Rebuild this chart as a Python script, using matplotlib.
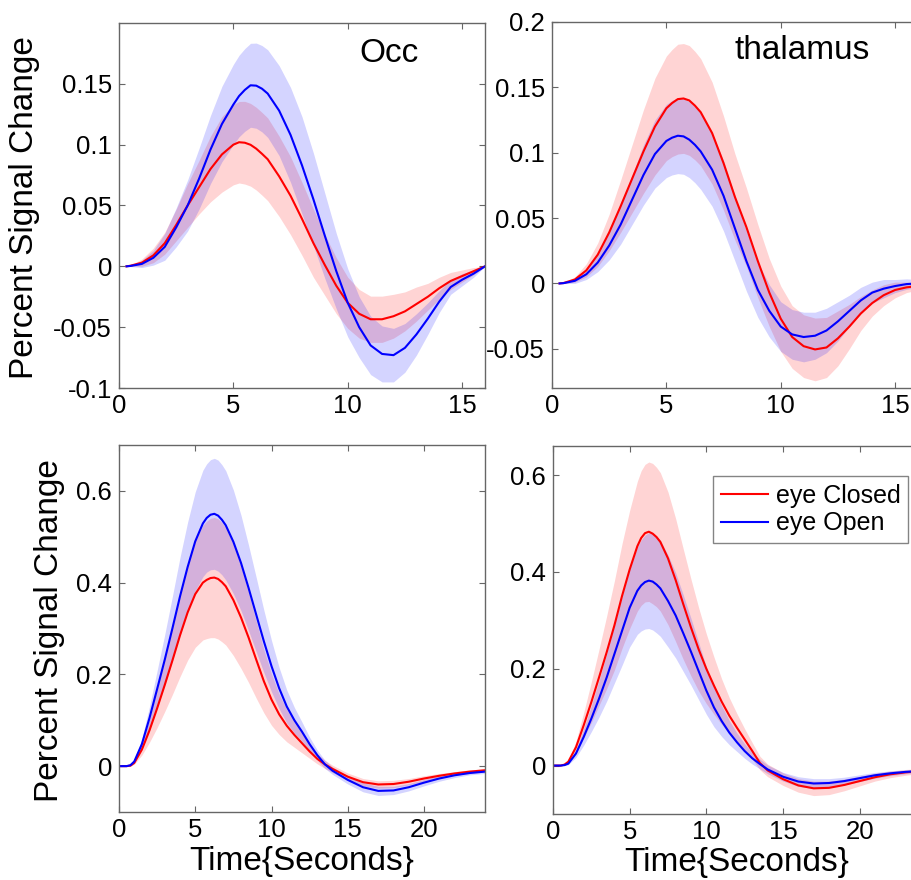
import matplotlib
matplotlib.use('Agg')
import matplotlib.pyplot as plt
import numpy as np

plt.rcParams['font.family'] = ['Liberation Sans', 'DejaVu Sans']
plt.rcParams['axes.unicode_minus'] = False

# ---------------- data ----------------
t_top = [0.33, 0.5, 1.0, 1.5, 2.0, 2.5, 3.0, 3.5, 4.0, 4.5,
         5.0, 5.25, 5.5, 5.75, 6.0, 6.25, 6.5, 7.0, 7.5,
         8.0, 8.5, 9.0, 9.5, 10.0, 10.5, 11.0, 11.5, 12.0, 12.5, 13.0, 13.5, 14.0, 14.5,
         15.0, 15.5, 16.0]

occ_open = [0, 0.0003, 0.002, 0.007, 0.016, 0.032, 0.050, 0.072, 0.096, 0.117,
            0.133, 0.140, 0.145, 0.1488, 0.1485, 0.146, 0.142, 0.128, 0.108,
            0.083, 0.055, 0.025, -0.004, -0.030, -0.050, -0.065, -0.072, -0.073, -0.067,
            -0.056, -0.043, -0.029, -0.017, -0.011, -0.006, 0.0]
occ_open_err = [0, 0.0005, 0.003, 0.006, 0.011, 0.016, 0.021, 0.025, 0.028, 0.031,
                0.033, 0.0335, 0.034, 0.0345, 0.035, 0.0355, 0.036, 0.037, 0.039,
                0.040, 0.038, 0.035, 0.031, 0.028, 0.025, 0.024, 0.023, 0.022, 0.020,
                0.017, 0.013, 0.009, 0.006, 0.005, 0.003, 0.0]
occ_closed = [0, 0.0005, 0.003, 0.009, 0.019, 0.034, 0.050, 0.065, 0.080, 0.092,
              0.100, 0.102, 0.1016, 0.0999, 0.0967, 0.0925, 0.088, 0.074, 0.058,
              0.039, 0.019, 0.001, -0.016, -0.030, -0.039, -0.0435, -0.0435, -0.041, -0.037,
              -0.031, -0.025, -0.018, -0.012, -0.008, -0.004, 0.0]
occ_closed_err = [0, 0.0005, 0.003, 0.006, 0.009, 0.013, 0.018, 0.022, 0.027, 0.031,
                  0.033, 0.0335, 0.034, 0.034, 0.034, 0.034, 0.034, 0.033, 0.032,
                  0.030, 0.028, 0.025, 0.023, 0.021, 0.020, 0.019, 0.019, 0.018, 0.016,
                  0.014, 0.011, 0.009, 0.007, 0.005, 0.003, 0.0]

thal_closed = [0, 0.0003, 0.003, 0.010, 0.022, 0.039, 0.059, 0.080, 0.101, 0.120,
               0.134, 0.138, 0.141, 0.1415, 0.140, 0.136, 0.131, 0.115, 0.092,
               0.066, 0.043, 0.017, -0.007, -0.027, -0.041, -0.048, -0.0505, -0.049, -0.042,
               -0.033, -0.023, -0.015, -0.009, -0.005, -0.003, -0.002]
thal_closed_err = [0, 0.0003, 0.002, 0.005, 0.009, 0.014, 0.020, 0.026, 0.032, 0.037,
                   0.040, 0.041, 0.042, 0.042, 0.042, 0.0415, 0.041, 0.039, 0.036,
                   0.033, 0.030, 0.028, 0.026, 0.025, 0.024, 0.024, 0.024, 0.023, 0.021,
                   0.017, 0.013, 0.010, 0.008, 0.006, 0.004, 0.003]
thal_open = [0, 0.0002, 0.002, 0.007, 0.016, 0.029, 0.045, 0.064, 0.083, 0.099,
             0.109, 0.1115, 0.113, 0.1125, 0.110, 0.106, 0.101, 0.087, 0.067,
             0.042, 0.017, -0.005, -0.021, -0.033, -0.039, -0.041, -0.040, -0.036, -0.029,
             -0.021, -0.013, -0.007, -0.004, -0.002, -0.0005, 0.0]
thal_open_err = [0, 0.0003, 0.002, 0.004, 0.007, 0.011, 0.015, 0.019, 0.023, 0.026,
                 0.028, 0.0285, 0.029, 0.029, 0.029, 0.029, 0.029, 0.028, 0.027,
                 0.025, 0.023, 0.021, 0.020, 0.019, 0.019, 0.019, 0.018, 0.017, 0.015,
                 0.012, 0.010, 0.008, 0.007, 0.005, 0.004, 0.003]

t_bot = [0, 0.5, 0.75, 1.0, 1.5, 2.0, 2.5, 3.0, 3.5, 4.0, 4.5, 5.0, 5.5, 5.75, 6.0, 6.25,
         6.5, 6.75, 7.0, 7.5, 8.0, 8.5, 9.0, 9.5, 10.0, 10.5, 11.0, 11.5, 12.0, 12.5, 13.0,
         13.5, 14.0, 15, 16, 17, 18, 19, 20, 21, 22, 23, 24]

occ_open_b = [0, 0.0, 0.002, 0.010, 0.048, 0.105, 0.168, 0.232, 0.300, 0.370, 0.434,
              0.490, 0.529, 0.541, 0.548, 0.550, 0.546, 0.537, 0.525, 0.489, 0.443, 0.388,
              0.330, 0.272, 0.218, 0.170, 0.130, 0.100, 0.075, 0.048, 0.024, 0.004, -0.010,
              -0.030, -0.046, -0.054, -0.053, -0.046, -0.036, -0.027, -0.020, -0.015, -0.012]
occ_open_b_err = [0, 0, 0.001, 0.003, 0.012, 0.025, 0.040, 0.055, 0.070, 0.085, 0.098,
                  0.108, 0.116, 0.118, 0.120, 0.121, 0.121, 0.120, 0.119, 0.113, 0.104, 0.093,
                  0.081, 0.068, 0.056, 0.045, 0.036, 0.028, 0.021, 0.015, 0.011, 0.009, 0.008,
                  0.009, 0.010, 0.010, 0.009, 0.008, 0.007, 0.006, 0.005, 0.004, 0.004]
occ_closed_b = [0, 0.0, 0.001, 0.007, 0.036, 0.078, 0.126, 0.177, 0.230, 0.285, 0.335,
                0.375, 0.400, 0.406, 0.410, 0.411, 0.408, 0.401, 0.392, 0.362, 0.324, 0.280,
                0.232, 0.185, 0.145, 0.113, 0.088, 0.068, 0.050, 0.032, 0.016, 0.004, -0.006,
                -0.023, -0.035, -0.040, -0.039, -0.034, -0.027, -0.021, -0.016, -0.012, -0.009]
occ_closed_b_err = [0, 0, 0.001, 0.003, 0.012, 0.026, 0.042, 0.058, 0.074, 0.090, 0.104,
                    0.116, 0.125, 0.128, 0.130, 0.131, 0.131, 0.130, 0.128, 0.121, 0.111, 0.098,
                    0.084, 0.069, 0.056, 0.044, 0.035, 0.027, 0.021, 0.015, 0.011, 0.009, 0.008,
                    0.008, 0.008, 0.008, 0.008, 0.007, 0.006, 0.005, 0.004, 0.004, 0.003]

thal_closed_b = [0, 0.0, 0.002, 0.008, 0.038, 0.083, 0.131, 0.182, 0.234, 0.289, 0.350,
                 0.405, 0.453, 0.470, 0.480, 0.483, 0.479, 0.472, 0.462, 0.428, 0.383, 0.333,
                 0.285, 0.240, 0.200, 0.165, 0.132, 0.103, 0.078, 0.054, 0.030, 0.005, -0.010,
                 -0.028, -0.041, -0.047, -0.046, -0.040, -0.032, -0.024, -0.018, -0.014, -0.011]
thal_closed_b_err = [0, 0, 0.001, 0.003, 0.012, 0.026, 0.042, 0.058, 0.075, 0.092, 0.108,
                     0.122, 0.134, 0.139, 0.142, 0.144, 0.145, 0.144, 0.143, 0.137, 0.127, 0.114,
                     0.100, 0.086, 0.072, 0.059, 0.047, 0.037, 0.029, 0.022, 0.017, 0.014, 0.013,
                     0.013, 0.014, 0.015, 0.014, 0.012, 0.010, 0.008, 0.007, 0.006, 0.005]
thal_open_b = [0, 0.0, 0.001, 0.004, 0.025, 0.059, 0.097, 0.138, 0.182, 0.230, 0.278,
               0.326, 0.361, 0.372, 0.379, 0.382, 0.380, 0.374, 0.366, 0.340, 0.310, 0.273,
               0.235, 0.195, 0.155, 0.120, 0.092, 0.068, 0.048, 0.030, 0.015, 0.003, -0.008,
               -0.023, -0.033, -0.037, -0.036, -0.032, -0.026, -0.020, -0.016, -0.013, -0.011]
thal_open_b_err = [0, 0, 0.001, 0.002, 0.008, 0.017, 0.027, 0.038, 0.049, 0.060, 0.071,
                   0.081, 0.090, 0.094, 0.097, 0.099, 0.100, 0.100, 0.099, 0.095, 0.088, 0.079,
                   0.069, 0.059, 0.049, 0.040, 0.032, 0.025, 0.019, 0.015, 0.012, 0.010, 0.009,
                   0.009, 0.010, 0.010, 0.009, 0.008, 0.007, 0.006, 0.005, 0.004, 0.004]

series_labels = ['eye Closed', 'eye Open']
titles = ['Occ', 'thalamus']
xticks_top = [0, 5, 10, 15]
xticks_bot = [0, 5, 10, 15, 20]
yticks_occ = [-0.1, -0.05, 0, 0.05, 0.1, 0.15]
yticks_thal = [-0.05, 0, 0.05, 0.1, 0.15, 0.2]
yticks_bot = [0, 0.2, 0.4, 0.6]

# ---------------- figure ----------------
W, H = 912, 880
fig = plt.figure(figsize=(W / 100, H / 100), dpi=100)

GRAY = '#666666'


def px_rect(x0, y0, x1, y1):
    return [x0 / W, 1 - y1 / H, (x1 - x0) / W, (y1 - y0) / H]


def panel(rect, t, closed, closed_err, opn, opn_err, xlim, ylim, xticks, yticks):
    ax = fig.add_axes(rect)
    t = np.asarray(t)
    c, ce = np.asarray(closed), np.asarray(closed_err)
    o, oe = np.asarray(opn), np.asarray(opn_err)
    ax.fill_between(t, c - ce, c + ce, color='red', alpha=0.17, lw=0)
    ax.fill_between(t, o - oe, o + oe, color='blue', alpha=0.17, lw=0)
    ax.plot(t, c, color='red', lw=1.5, label=series_labels[0])
    ax.plot(t, o, color='blue', lw=1.5, label=series_labels[1])
    ax.set_xlim(*xlim)
    ax.set_ylim(*ylim)
    ax.set_xticks(xticks)
    ax.set_xticklabels(['%g' % v for v in xticks])
    ax.set_yticks(yticks)
    ax.set_yticklabels(['%g' % v for v in yticks])
    for sp in ax.spines.values():
        sp.set_color(GRAY)
        sp.set_linewidth(1.0)
    ax.tick_params(direction='in', top=True, right=True, length=4, width=0.8,
                   color=GRAY, labelsize=18.5, labelcolor='black')
    ax.tick_params(axis='x', pad=4)
    ax.tick_params(axis='y', pad=5)
    return ax


ax_tl = panel(px_rect(119, 23, 485, 388), t_top, occ_closed, occ_closed_err,
              occ_open, occ_open_err, (0, 16), (-0.1, 0.2), xticks_top, yticks_occ)
ax_tr = panel(px_rect(552, 22, 918, 388), t_top, thal_closed, thal_closed_err,
              thal_open, thal_open_err, (0, 16), (-0.08, 0.2), xticks_top, yticks_thal)
ax_bl = panel(px_rect(119, 445, 485, 812), t_bot, occ_closed_b, occ_closed_b_err,
              occ_open_b, occ_open_b_err, (0, 24), (-0.1, 0.7), xticks_bot, yticks_bot)
ax_br = panel(px_rect(553, 446, 921, 814), t_bot, thal_closed_b, thal_closed_b_err,
              thal_open_b, thal_open_b_err, (0, 24), (-0.1, 0.66), xticks_bot, yticks_bot)

# titles inside panels
ax_tl.text(0.658, 0.893, titles[0], transform=ax_tl.transAxes, fontsize=24,
           ha='left', va='baseline')
ax_tr.text(0.50, 0.899, titles[1], transform=ax_tr.transAxes, fontsize=24,
           ha='left', va='baseline')

# axis labels
for ax, xc in ((ax_tl, -0.257), (ax_bl, -0.19)):
    ax.set_ylabel('Percent Signal Change', fontsize=24)
    ax.yaxis.label.set_verticalalignment('center')
    ax.yaxis.set_label_coords(xc, 0.494)
for ax, yc in ((ax_bl, -0.134), (ax_br, -0.131)):
    ax.set_xlabel('Time{Seconds}', fontsize=24)
    ax.xaxis.label.set_verticalalignment('center')
    ax.xaxis.set_label_coords(0.5, yc)

leg = ax_br.legend(loc='upper right', bbox_to_anchor=(0.965, 0.918), fontsize=18,
                   frameon=True, fancybox=False, shadow=False, handlelength=1.9,
                   handletextpad=0.3, labelspacing=0.15, borderpad=0.3,
                   borderaxespad=0.0)
leg.get_frame().set_edgecolor(GRAY)
leg.get_frame().set_linewidth(1.0)

fig.savefig('out.png', dpi=100)
